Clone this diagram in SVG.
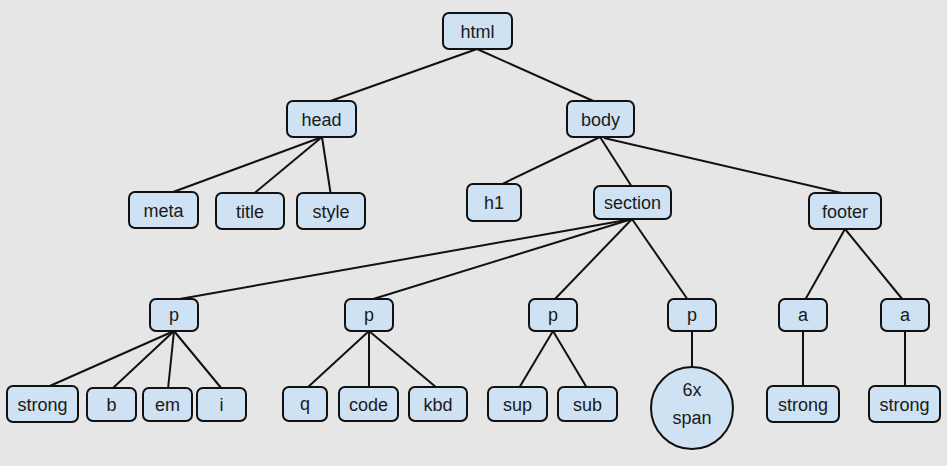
<svg xmlns="http://www.w3.org/2000/svg" width="947" height="466" viewBox="0 0 947 466">
<style>
.n rect, .n circle { fill: #cfe2f3; stroke: #111; stroke-width: 2; }
.n text { font-family: "Liberation Sans", Arial, sans-serif; font-size: 18px; fill: #1a1a1a; text-anchor: middle; }
#edges line { stroke: #111; stroke-width: 2; }
</style>
<rect width="947" height="466" fill="#e6e6e6"/>
<g id="edges">
<line x1="477" y1="49" x2="322" y2="104"/>
<line x1="477" y1="49" x2="600" y2="104"/>
<line x1="322" y1="137" x2="165" y2="195"/>
<line x1="322" y1="137" x2="251" y2="196"/>
<line x1="322" y1="137" x2="331" y2="196"/>
<line x1="600" y1="137" x2="496" y2="187"/>
<line x1="600" y1="137" x2="632" y2="187"/>
<line x1="604" y1="138" x2="846" y2="194"/>
<line x1="632" y1="219" x2="174" y2="300"/>
<line x1="632" y1="219" x2="370" y2="300"/>
<line x1="632" y1="219" x2="554" y2="300"/>
<line x1="632" y1="219" x2="688" y2="300"/>
<line x1="845" y1="229" x2="805" y2="300"/>
<line x1="845" y1="229" x2="903" y2="300"/>
<line x1="174" y1="331" x2="43" y2="389"/>
<line x1="174" y1="331" x2="113" y2="388"/>
<line x1="174" y1="331" x2="168" y2="389"/>
<line x1="174" y1="331" x2="222" y2="389"/>
<line x1="369" y1="331" x2="307" y2="388"/>
<line x1="369" y1="331" x2="369" y2="388"/>
<line x1="369" y1="331" x2="437" y2="388"/>
<line x1="553" y1="331" x2="519" y2="388"/>
<line x1="553" y1="331" x2="587" y2="388"/>
<line x1="692" y1="331" x2="692" y2="368"/>
<line x1="803" y1="331" x2="803" y2="387"/>
<line x1="905" y1="331" x2="905" y2="387"/>
</g>
<g id="html" class="n"><rect x="443" y="13" width="69" height="36" rx="6"/><text x="477.5" y="37.5">html</text></g>
<g id="head" class="n"><rect x="287" y="101" width="69" height="36" rx="6"/><text x="321.5" y="125.5">head</text></g>
<g id="body" class="n"><rect x="567" y="101" width="67" height="36" rx="6"/><text x="600.5" y="125.5">body</text></g>
<g id="meta" class="n"><rect x="129" y="192" width="69" height="36" rx="6"/><text x="163.5" y="216.5">meta</text></g>
<g id="title" class="n"><rect x="216" y="193" width="68" height="36" rx="6"/><text x="250" y="217.5">title</text></g>
<g id="style" class="n"><rect x="297" y="193" width="68" height="36" rx="6"/><text x="331" y="217.5">style</text></g>
<g id="h1" class="n"><rect x="467" y="184" width="54" height="37" rx="6"/><text x="494" y="209">h1</text></g>
<g id="section" class="n"><rect x="594" y="186" width="77" height="33" rx="6"/><text x="632.5" y="209">section</text></g>
<g id="footer" class="n"><rect x="809" y="193" width="72" height="36" rx="6"/><text x="845" y="217.5">footer</text></g>
<g id="p1" class="n"><rect x="150" y="299" width="48" height="32" rx="6"/><text x="174" y="321">p</text></g>
<g id="p2" class="n"><rect x="345" y="299" width="48" height="32" rx="6"/><text x="369" y="321">p</text></g>
<g id="p3" class="n"><rect x="529" y="299" width="48" height="32" rx="6"/><text x="553" y="321">p</text></g>
<g id="p4" class="n"><rect x="668" y="299" width="48" height="32" rx="6"/><text x="692" y="321">p</text></g>
<g id="a1" class="n"><rect x="779" y="299" width="48" height="32" rx="6"/><text x="803" y="321">a</text></g>
<g id="a2" class="n"><rect x="881" y="299" width="48" height="32" rx="6"/><text x="905" y="321">a</text></g>
<g id="strong1" class="n"><rect x="7" y="386" width="71" height="36" rx="6"/><text x="42.5" y="410.5">strong</text></g>
<g id="b" class="n"><rect x="87" y="388" width="49" height="33" rx="6"/><text x="111.5" y="410.5">b</text></g>
<g id="em" class="n"><rect x="143" y="388" width="49" height="33" rx="6"/><text x="167.5" y="410.5">em</text></g>
<g id="i" class="n"><rect x="197" y="388" width="49" height="33" rx="6"/><text x="221.5" y="410.5">i</text></g>
<g id="q" class="n"><rect x="283" y="387" width="44" height="34" rx="6"/><text x="305" y="410">q</text></g>
<g id="code" class="n"><rect x="339" y="387" width="59" height="34" rx="6"/><text x="368.5" y="410.5">code</text></g>
<g id="kbd" class="n"><rect x="409" y="387" width="58" height="34" rx="6"/><text x="438" y="410.5">kbd</text></g>
<g id="sup" class="n"><rect x="488" y="387" width="59" height="34" rx="6"/><text x="517.5" y="410.5">sup</text></g>
<g id="sub" class="n"><rect x="558" y="387" width="59" height="34" rx="6"/><text x="587.5" y="410.5">sub</text></g>
<g id="span" class="n"><circle cx="692" cy="408" r="41"/><text x="692" y="396">6x</text><text x="692" y="424">span</text></g>
<g id="strong2" class="n"><rect x="767" y="386" width="72" height="36" rx="6"/><text x="803" y="410.5">strong</text></g>
<g id="strong3" class="n"><rect x="869" y="386" width="71" height="36" rx="6"/><text x="904.5" y="410.5">strong</text></g>
</svg>
